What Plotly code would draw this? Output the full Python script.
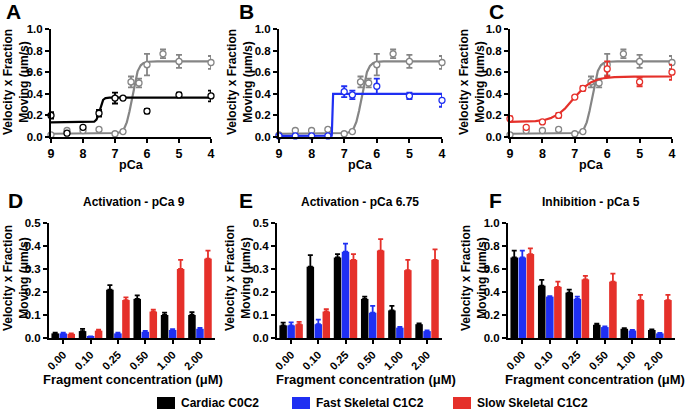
import numpy as np
import plotly.graph_objects as go

# ---- pCa curves (panels A-C) ----
pca_ctrl = [9, 8.5, 8, 7.5, 7, 6.75, 6.5, 6.25, 6, 5.5, 5, 4]
ctrl_v = [0.02, 0.06, 0.06, 0.07, 0.03, 0.05, 0.51, 0.50, 0.67, 0.77, 0.70, 0.69]
ctrl_err = [0.005, 0.005, 0.005, 0.005, 0.005, 0.005, 0.05, 0.04, 0.10, 0.04, 0.06, 0.06]

pca_frag = [9, 8.5, 8, 7.5, 7, 6.75, 6, 5, 4]
cardiac_v = [0.20, 0.035, 0.09, 0.22, 0.36, 0.36, 0.24, 0.39, 0.38]
cardiac_err = [0.03, 0.01, 0.01, 0.03, 0.05, 0.005, 0.02, 0.02, 0.05]
fast_v = [0.01, 0.01, 0.01, 0.01, 0.42, 0.39, 0.47, 0.38, 0.34]
fast_err = [0.003, 0.003, 0.003, 0.003, 0.05, 0.04, 0.07, 0.03, 0.06]
slow_v = [0.17, 0.09, 0.14, 0.20, 0.37, 0.45, 0.63, 0.51, 0.60]
slow_err = [0.02, 0.01, 0.005, 0.02, 0.005, 0.02, 0.07, 0.04, 0.07]

# Hill fit parameters: bottom, top, pCa50, nH
ctrl_fit = [0.03, 0.70, 6.47, 4.5]
cardiac_fit = [0.135, 0.365, 7.48, 9.0]
fast_fit = [0.01, 0.40, 7.37, 150.0]
slow_fit = [0.14, 0.56, 7.05, 1.5]

# ---- fragment titration (panels D-F) ----
conc = ["0.00", "0.10", "0.25", "0.50", "1.00", "2.00"]

d_cardiac = [0.02, 0.03, 0.21, 0.17, 0.10, 0.10]
d_cardiac_err = [0.003, 0.01, 0.02, 0.015, 0.01, 0.012]
d_fast = [0.02, 0.005, 0.02, 0.027, 0.035, 0.04]
d_fast_err = [0.003, 0.002, 0.003, 0.004, 0.004, 0.004]
d_slow = [0.018, 0.032, 0.165, 0.115, 0.30, 0.345]
d_slow_err = [0.002, 0.004, 0.012, 0.008, 0.04, 0.035]

e_cardiac = [0.055, 0.31, 0.35, 0.17, 0.12, 0.06]
e_cardiac_err = [0.012, 0.05, 0.015, 0.01, 0.02, 0.003]
e_fast = [0.055, 0.06, 0.375, 0.11, 0.045, 0.03]
e_fast_err = [0.013, 0.02, 0.035, 0.03, 0.003, 0.003]
e_slow = [0.06, 0.115, 0.34, 0.38, 0.295, 0.34]
e_slow_err = [0.01, 0.01, 0.025, 0.05, 0.045, 0.045]

f_cardiac = [0.70, 0.455, 0.395, 0.115, 0.08, 0.07]
f_cardiac_err = [0.06, 0.05, 0.025, 0.01, 0.005, 0.005]
f_fast = [0.70, 0.36, 0.34, 0.095, 0.065, 0.04]
f_fast_err = [0.06, 0.005, 0.02, 0.005, 0.005, 0.005]
f_slow = [0.73, 0.445, 0.51, 0.49, 0.33, 0.33]
f_slow_err = [0.05, 0.045, 0.03, 0.07, 0.045, 0.045]

names = ["Cardiac C0C2", "Fast Skeletal C1C2", "Slow Skeletal C1C2"]

BLACK = "#000000"
GRAY = "#858585"
BLUE = "#1f2ff2"
RED = "#e5302a"
FONT = "Liberation Sans"

W, H = 685, 411


def px_x(a, b):
    return [a / W, b / W]


def px_y(top, bottom):
    return [1 - bottom / H, 1 - top / H]


def bold(size):
    return dict(family=FONT, size=size, color="black", weight="bold")


def hill(x, p):
    bottom, top, p50, n = p
    return bottom + (top - bottom) / (1 + 10 ** ((x - p50) * n))


fig = go.Figure()
xfit = np.linspace(9, 4, 1001)


def add_curve(ax, x, y, err, color, fitp):
    fig.add_trace(go.Scatter(x=xfit, y=hill(xfit, fitp), mode="lines",
                             line=dict(color=color, width=2.2), showlegend=False,
                             xaxis="x" + ax, yaxis="y" + ax, hoverinfo="skip"))
    fig.add_trace(go.Scatter(x=x, y=y, mode="markers", showlegend=False,
                             marker=dict(symbol="circle", size=6, color="white",
                                         line=dict(width=1.3, color=color)),
                             error_y=dict(type="data", array=err, color=color,
                                          thickness=1.8, width=3),
                             cliponaxis=False, xaxis="x" + ax, yaxis="y" + ax))


axis_common = dict(showline=True, linewidth=2, linecolor="black", ticks="outside",
                   ticklen=4, tickwidth=2, tickcolor="black", showgrid=False,
                   zeroline=False, automargin=False)

panels_top = [("", 51, 211), ("2", 279, 442), ("3", 510, 672)]
frag_sets = [(cardiac_v, cardiac_err, BLACK, cardiac_fit),
             (fast_v, fast_err, BLUE, fast_fit),
             (slow_v, slow_err, RED, slow_fit)]

for (ax, x0, x1), (fv, fe, fc, fp) in zip(panels_top, frag_sets):
    add_curve(ax, pca_ctrl, ctrl_v, ctrl_err, GRAY, ctrl_fit)
    add_curve(ax, pca_frag, fv, fe, fc, fp)
    fig.layout["xaxis" + ax] = dict(domain=px_x(x0, x1), range=[9, 4], dtick=1,
                                    anchor="y" + ax, tickfont=bold(12.5),
                                    **axis_common)
    fig.layout["yaxis" + ax] = dict(domain=px_y(29, 137), range=[0, 1], dtick=0.2,
                                    tickformat=".1f", anchor="x" + ax,
                                    tickfont=bold(11.5), **axis_common)

panels_bot = [("4", 49, 215, 0.5, 0.1, (d_cardiac, d_cardiac_err, d_fast, d_fast_err, d_slow, d_slow_err)),
              ("5", 277, 442, 0.5, 0.1, (e_cardiac, e_cardiac_err, e_fast, e_fast_err, e_slow, e_slow_err)),
              ("6", 508, 675, 1.0, 0.2, (f_cardiac, f_cardiac_err, f_fast, f_fast_err, f_slow, f_slow_err))]
colors = [BLACK, BLUE, RED]

for i, (ax, x0, x1, ymax, dt, vals) in enumerate(panels_bot):
    for k in range(3):
        v, e = vals[2 * k], vals[2 * k + 1]
        fig.add_trace(go.Bar(x=conc, y=v, name=names[k], marker_color=colors[k],
                             marker_line_width=0, showlegend=False, offsetgroup=str(k),
                             error_y=dict(type="data", array=e, arrayminus=[0] * len(e),
                                          symmetric=False, color=colors[k],
                                          thickness=1.8, width=2.5),
                             xaxis="x" + ax, yaxis="y" + ax))
    fig.layout["xaxis" + ax] = dict(domain=px_x(x0, x1), type="category",
                                    range=[-0.52, 5.55], tickangle=-45, anchor="y" + ax,
                                    tickfont=bold(11), **axis_common)
    fig.layout["yaxis" + ax] = dict(domain=px_y(223, 338), range=[0, ymax], dtick=dt,
                                    tickformat=".1f", anchor="x" + ax,
                                    tickfont=bold(11.5), **axis_common)

annotations = []
shapes = []


def text(t, x, y, font, xanchor="center", yanchor="middle", angle=0):
    annotations.append(dict(text=t, x=x / W, y=1 - y / H, xref="paper", yref="paper",
                            xanchor=xanchor, yanchor=yanchor, textangle=angle,
                            showarrow=False, font=font))


for letter, x, y in [("A", 4, 12), ("B", 237, 12), ("C", 487, 12),
                     ("D", 6, 200), ("E", 237, 200), ("F", 487, 201)]:
    text(letter, x, y, bold(21), xanchor="left")

for t, x in [("Activation - pCa 9", 134), ("Activation - pCa 6.75", 360),
             ("Inhibition - pCa 5", 591)]:
    text(t, x, 202, bold(12))

ytitle = "Velocity x Fraction<br>Moving (μm/s)"
for x, y in [(16, 82), (240, 82), (472, 82), (16, 278), (238, 278), (474, 278)]:
    text(ytitle, x, y, bold(12), angle=-90)

for x in [131, 360, 591]:
    text("pCa", x, 165, bold(12.5))
for x in [133, 366, 595]:
    text("Fragment concentration (μM)", x, 379, bold(13))

# legend swatches and labels
for name, color, x in zip(names, colors, [157, 292, 453]):
    shapes.append(dict(type="rect", xref="paper", yref="paper",
                       x0=x / W, x1=(x + 18) / W, y0=1 - 409 / H, y1=1 - 397 / H,
                       fillcolor=color, line=dict(width=0)))
    text(name, x + 22, 403, bold(12), xanchor="left")

fig.update_layout(
    width=W, height=H, margin=dict(l=0, r=0, t=0, b=0, autoexpand=False),
    paper_bgcolor="white", plot_bgcolor="white",
    font=dict(family=FONT, color="black"),
    barmode="group", bargap=0.12, bargroupgap=0.06,
    annotations=annotations, shapes=shapes, showlegend=False,
)

fig.write_html("out.html", config={"displayModeBar": False},
               post_script="document.body.style.margin='0px';")
